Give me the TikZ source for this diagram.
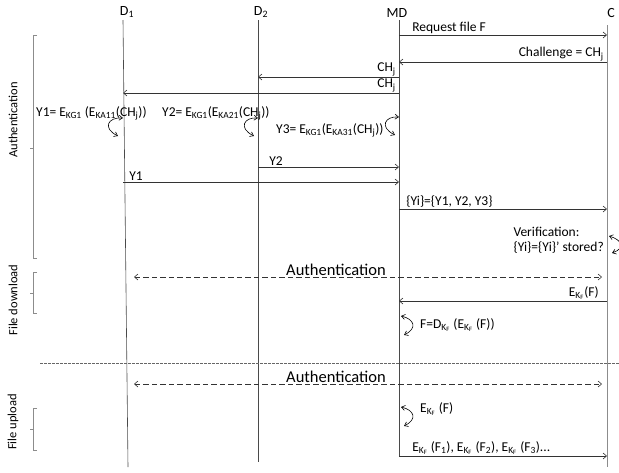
\documentclass[tikz,border=0pt]{standalone}
\usepackage{fontspec}
\setmainfont{Carlito}
\usetikzlibrary{arrows.meta,positioning,calc}
\definecolor{LifeGray}{HTML}{4A4A4A}
\definecolor{BracketGray}{HTML}{8C8C8C}
\newcommand{\ekf}{E\textsubscript{K\textsubscript{F}}}

\begin{document}
\begin{tikzpicture}[
  x=1pt, y=-1pt,
  life/.style={draw=LifeGray, line width=0.6pt},
  msg/.style={-{Straight Barb[length=3.5pt,width=6pt]}, line width=0.6pt, draw=black!80},
  authmsg/.style={{Straight Barb[length=3.5pt,width=6pt]}-{Straight Barb[length=3.5pt,width=6pt]},
    dash pattern=on 5.5pt off 3pt, line width=0.6pt, draw=black!80},
  turn/.style={{Straight Barb[length=3.5pt,width=5pt]}-{Straight Barb[length=3.5pt,width=5pt]},
    line width=0.6pt},
  head/.style={font=\fontsize{14}{16}\selectfont, inner sep=1pt},
  lbl/.style={font=\fontsize{13.5}{15.5}\selectfont, inner sep=1pt, align=left},
  authlbl/.style={font=\fontsize{16.5}{18}\selectfont, inner sep=1pt},
  phase/.style={font=\fontsize{12.5}{14}\selectfont, rotate=90, inner sep=1pt},
  bracket/.style={draw=BracketGray, line width=0.6pt}
]
  \useasboundingbox (0,0) rectangle (619,472);

  % lifelines
  \coordinate (d1) at (123,20);  \coordinate (d1end) at (128,467);
  \coordinate (d2) at (258,20);  \coordinate (d2end) at (258,462);
  \coordinate (md) at (399,20);  \coordinate (mdend) at (399,457);
  \coordinate (c)  at (607,25);  \coordinate (cend)  at (607,467);
  \node[head, above=1pt of d1, xshift=4pt] (D1) {D\textsubscript{1}};
  \node[head, above=1pt of d2, xshift=3pt] (D2) {D\textsubscript{2}};
  \node[head, above=1pt of md, xshift=-2pt] (MD) {MD};
  \node[head, above=6pt of c, xshift=4pt] (C) {C};
  \draw[life] (d1) -- (d1end);
  \draw[life] (d2) -- (d2end);
  \draw[life] (md) -- (mdend);
  \draw[life, draw=BracketGray] (c) -- (cend);

  % message rows
  \foreach \row/\yy in {req/35, chal/62, chA/77, chB/93, yB/167, yA/182, yset/209,
                        authA/277, dl/301, sep/363, authB/384, ul/456}
    \coordinate (\row) at (0,\yy);

  % authentication
  \draw[msg] (md |- req) -- node[lbl, pos=0, anchor=south west, xshift=12pt] (reqL) {Request file F} (c |- req);
  \draw[msg] (c |- chal) -- node[lbl, pos=0, anchor=south east, xshift=-2pt] (chalL) {Challenge = CH\textsubscript{j}} (md |- chal);
  \draw[msg] (md |- chA) -- node[lbl, pos=0, anchor=south east, xshift=-2pt] (chAL) {CH\textsubscript{j}} (d2 |- chA);
  \draw[msg] (md |- chB) -- node[lbl, pos=0, anchor=south east, xshift=-2pt] (chBL) {CH\textsubscript{j}} (d1 |- chB);

  \node[lbl, anchor=west] (y1L) at (35,113) {Y1= E\textsubscript{KG1} (E\textsubscript{KA11}(CH\textsubscript{j}))};
  \node[lbl, anchor=west] (y2L) at (161,113) {Y2= E\textsubscript{KG1}(E\textsubscript{KA21}(CH\textsubscript{j}))};
  \node[lbl, anchor=west] (y3L) at (275,130) {Y3= E\textsubscript{KG1}(E\textsubscript{KA31}(CH\textsubscript{j}))};
  \coordinate (t1a) at (118,136); \coordinate (t1b) at (123,118);
  \coordinate (t2a) at (254,136); \coordinate (t2b) at (258,118);
  \coordinate (t3a) at (395,135); \coordinate (t3b) at (399,117);
  \draw[turn] (t1a) .. controls (102,128) and (108,117) .. (t1b);
  \draw[turn] (t2a) .. controls (238,128) and (244,117) .. (t2b);
  \draw[turn] (t3a) .. controls (379,127) and (385,116) .. (t3b);

  \draw[msg] (d2 |- yB) -- node[lbl, pos=0, anchor=south west, xshift=10pt] (yBL) {Y2} (md |- yB);
  \draw[msg] (d1 |- yA) -- node[lbl, pos=0, anchor=south west, xshift=5pt] (yAL) {Y1} (md |- yA);
  \draw[msg] (md |- yset) -- node[lbl, pos=0, anchor=south west, xshift=6pt] (ysetL) {\{Yi\}=\{Y1, Y2, Y3\}} (c |- yset);

  \node[lbl, anchor=east] (verL) at (605,240) {Verification:\\\{Yi\}=\{Yi\}’ stored?};
  \coordinate (v1) at (609,236); \coordinate (v2) at (612,253);
  \draw[turn] (v1) .. controls (622,240) and (626,248) .. (v2);

  \draw[authmsg, shorten <=11pt, shorten >=5pt] (d1 |- authA) -- node[authlbl, pos=0.44, above] (authAL) {Authentication} (c |- authA);

  % file download
  \draw[msg] (c |- dl) -- node[lbl, pos=0, anchor=south east, xshift=-7pt] (dlL) {\ekf(F)} (md |- dl);
  \coordinate (f1) at (401,316); \coordinate (f2) at (404,335);
  \draw[turn] (f1) .. controls (414,319) and (418,328) .. (f2);
  \node[lbl, anchor=west] (decL) at (419,325) {F=D\textsubscript{K\textsubscript{F}} (\ekf\ (F))};

  \draw[dash pattern=on 2.5pt off 1.5pt, line width=0.4pt, draw=black!60] (40,0 |- sep) coordinate (sepA) -- (619,0 |- sep) coordinate (sepB);

  % file upload
  \draw[authmsg, shorten <=11pt, shorten >=5pt] (d1 |- authB) -- node[authlbl, pos=0.44, above] (authBL) {Authentication} (c |- authB);
  \coordinate (u1) at (401,407); \coordinate (u2) at (404,426);
  \draw[turn] (u1) .. controls (414,410) and (418,419) .. (u2);
  \node[lbl, anchor=west] (encL) at (419,409) {\ekf\ (F)};
  \draw[msg] (md |- ul) -- node[lbl, pos=0, anchor=south west, xshift=12pt] (ulL) {\ekf\ (F\textsubscript{1}), \ekf\ (F\textsubscript{2}), \ekf\ (F\textsubscript{3})...} (c |- ul);

  % phase brackets
  \draw[bracket] (37,35) -- (33,35) -- (33,258) -- (37,258);
  \draw[bracket] (33,148) -- (30,148);
  \draw[bracket] (37,272) -- (33,272) -- (33,313) -- (37,313);
  \draw[bracket] (33,293) -- (30,293);
  \draw[bracket] (37,408) -- (33,408) -- (33,450) -- (37,450);
  \draw[bracket] (33,429) -- (30,429);
  \node[phase] (authP) at (13,120) {Authentication};
  \node[phase] (dlP) at (13,300) {File download};
  \node[phase] (ulP) at (13,422) {File upload};
\end{tikzpicture}
\end{document}
